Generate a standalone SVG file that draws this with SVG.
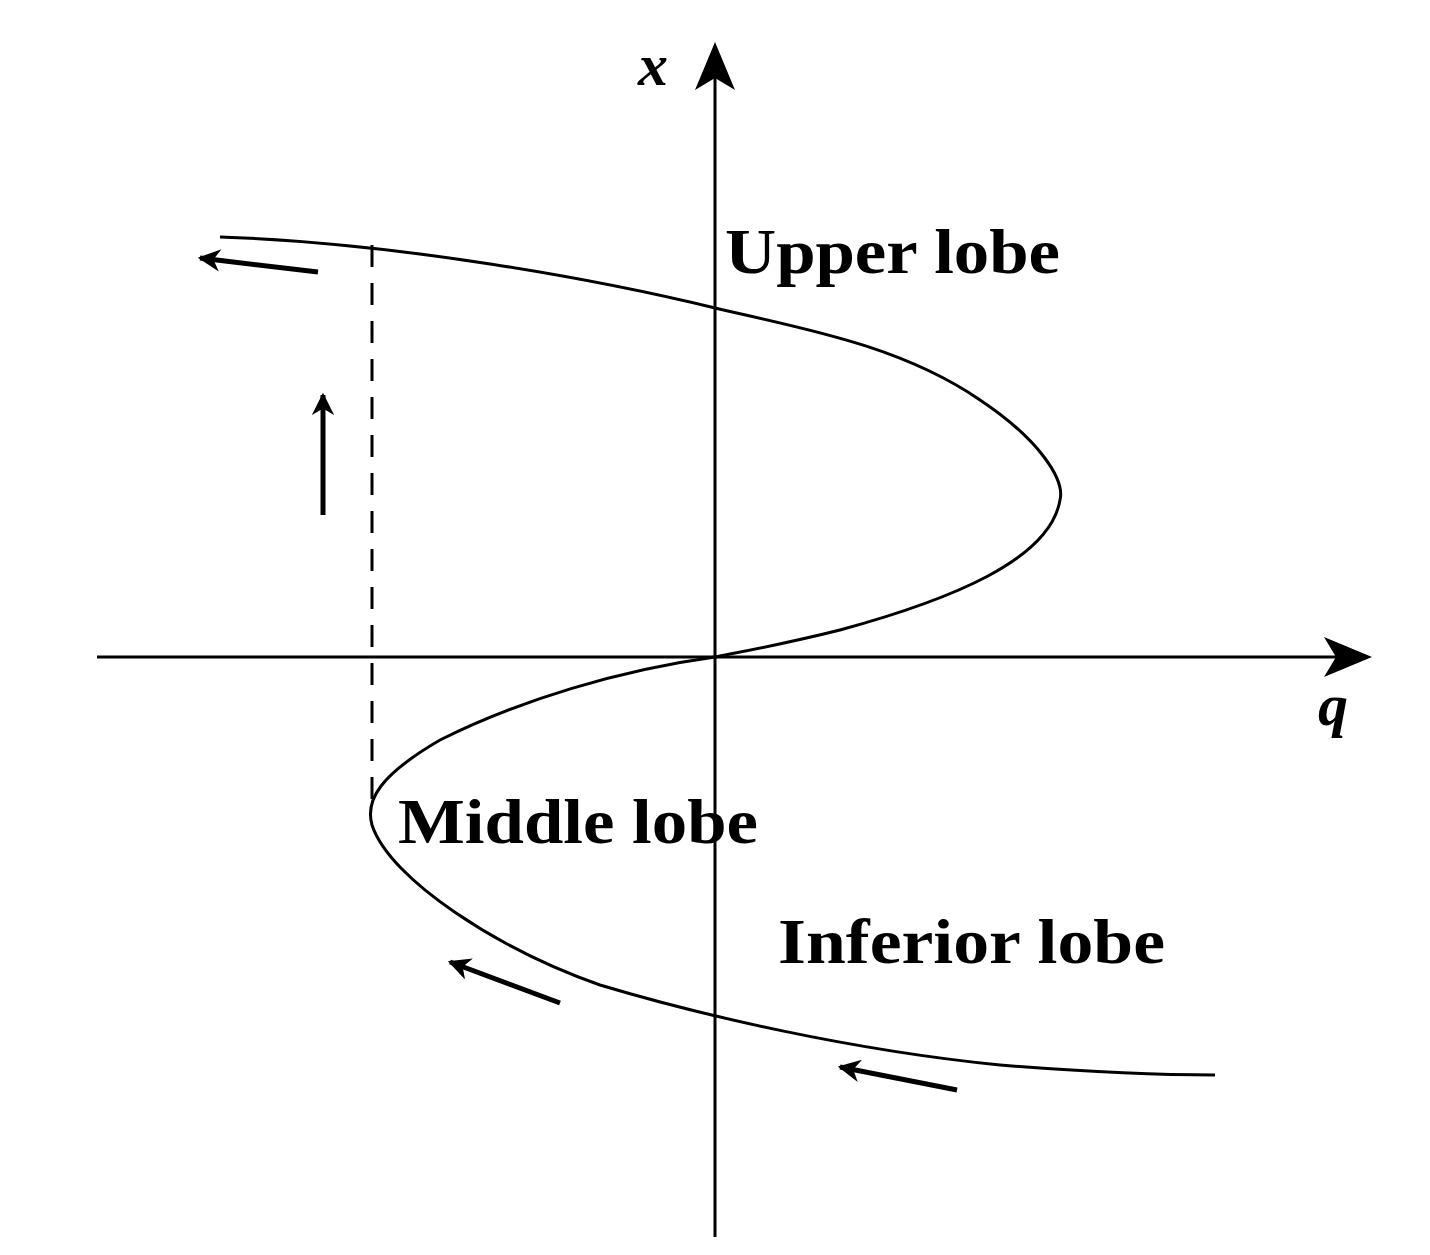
<svg xmlns="http://www.w3.org/2000/svg" width="1430" height="1255" viewBox="0 0 1430 1255">
<style>
.ln{stroke:#000;stroke-width:3;fill:none}
.lbl{font-family:"Liberation Serif",serif;font-weight:bold;font-size:64px;fill:#000}
.ax{font-family:"Liberation Serif",serif;font-weight:bold;font-style:italic;font-size:60px;fill:#000}
</style>
<defs>
<marker id="ah" viewBox="0 0 10 10" refX="9" refY="5" markerWidth="7" markerHeight="4.5" markerUnits="strokeWidth" orient="auto"><path d="M0,0 L10,5 L0,10 L3,5 Z" fill="#000"/></marker>
</defs>
<rect width="1430" height="1255" fill="#fff"/>
<g id="axes">
<line class="ln" x1="715" y1="1237" x2="715" y2="60"/>
<path d="M715,42 L735,90 L715,78 L695,90 Z" fill="#000"/>
<line class="ln" x1="97" y1="657" x2="1355" y2="657"/>
<path d="M1372,657 L1324,637 L1336,657 L1324,677 Z" fill="#000"/>
</g>
<path class="ln" d="M220,237 C400,243 600,280 715,308 C800,328 900,345 980,400 C1040,440 1065,480 1060,500 C1050,560 950,600 840,630 C780,645 740,652 715,657 C620,670 520,700 440,740 C380,775 365,800 372,825 C390,880 500,950 600,985 C700,1015 850,1050 1000,1065 C1100,1073 1160,1075 1215,1075"/>
<line x1="372" y1="245" x2="372" y2="810" stroke="#000" stroke-width="3" stroke-dasharray="22,16"/>
<g id="arrows" stroke="#000" stroke-width="5" fill="none">
<line x1="318" y1="272" x2="200" y2="258" marker-end="url(#ah)"/>
<line x1="323" y1="515" x2="323" y2="395" marker-end="url(#ah)"/>
<line x1="560" y1="1003" x2="450" y2="962" marker-end="url(#ah)"/>
<line x1="957" y1="1090" x2="840" y2="1067" marker-end="url(#ah)"/>
</g>
<text class="ax" x="638" y="85">x</text>
<text class="ax" x="1318" y="725">q</text>
<text class="lbl" x="725" y="273" textLength="335" lengthAdjust="spacingAndGlyphs">Upper lobe</text>
<text class="lbl" x="398" y="843" textLength="360" lengthAdjust="spacingAndGlyphs">Middle lobe</text>
<text class="lbl" x="778" y="963" textLength="387" lengthAdjust="spacingAndGlyphs">Inferior lobe</text>
</svg>
